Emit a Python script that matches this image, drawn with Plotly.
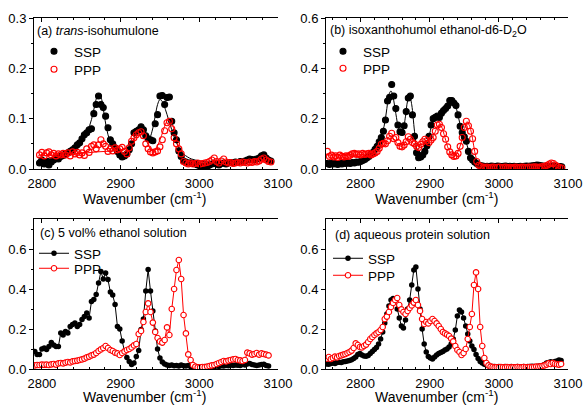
import plotly.graph_objects as go

W, H = 587, 405

# ---------------- Panel (a): trans-isohumulone ----------------
xa = [2797, 2800, 2803, 2806, 2809, 2812, 2815, 2818, 2821, 2824,
      2827, 2830, 2833, 2836, 2839, 2842, 2845, 2848, 2851, 2854,
      2857, 2860, 2863, 2866, 2869, 2872, 2875, 2878, 2881, 2884,
      2887, 2890, 2893, 2896, 2899, 2902, 2905, 2908, 2911, 2914,
      2917, 2920, 2923, 2926, 2929, 2932, 2935, 2938, 2941, 2944,
      2947, 2950, 2953, 2956, 2959, 2962, 2965, 2968, 2971, 2974,
      2977, 2980, 2983, 2986, 2989, 2992, 2995, 2998, 3001, 3004,
      3007, 3010, 3013, 3016, 3019, 3022, 3025, 3028, 3031, 3034,
      3037, 3040, 3043, 3046, 3049, 3052, 3055, 3058, 3061, 3064,
      3067, 3070, 3073, 3076, 3079, 3082, 3085, 3088, 3091]
ssp_a = [0.012, 0.018, 0.010, 0.015, 0.008, 0.014, 0.018, 0.022, 0.020, 0.025,
         0.027, 0.030, 0.032, 0.035, 0.038, 0.042, 0.048, 0.052, 0.060, 0.068,
         0.072, 0.078, 0.080, 0.110, 0.128, 0.145, 0.128, 0.122, 0.105, 0.082,
         0.058, 0.050, 0.042, 0.035, 0.028, 0.024, 0.026, 0.030, 0.038, 0.050,
         0.072, 0.075, 0.078, 0.084, 0.078, 0.066, 0.060, 0.058, 0.056, 0.090,
         0.108, 0.145, 0.146, 0.128, 0.142, 0.143, 0.095, 0.072, 0.058, 0.036,
         0.025, 0.016, 0.014, 0.012, 0.012, 0.011, 0.010, 0.008, 0.006, 0.005,
         0.006, 0.004, 0.008, 0.010, 0.012, 0.010, 0.008, 0.011, 0.012, 0.010,
         0.012, 0.013, 0.012, 0.014, 0.013, 0.015, 0.014, 0.016, 0.018, 0.020,
         0.019, 0.018, 0.020, 0.022, 0.026, 0.028, 0.022, 0.018, 0.016]
ppp_a = [0.028, 0.033, 0.026, 0.032, 0.034, 0.028, 0.031, 0.026, 0.030, 0.028,
         0.031, 0.028, 0.032, 0.026, 0.034, 0.030, 0.033, 0.028, 0.032, 0.027,
         0.040, 0.033, 0.045, 0.048, 0.040, 0.048, 0.058, 0.050, 0.045, 0.035,
         0.040, 0.036, 0.042, 0.038, 0.040, 0.043, 0.035, 0.030, 0.042, 0.055,
         0.062, 0.068, 0.072, 0.074, 0.066, 0.050, 0.040, 0.034, 0.032, 0.034,
         0.036, 0.044, 0.058, 0.076, 0.092, 0.095, 0.080, 0.062, 0.050, 0.040,
         0.030, 0.015, 0.012, 0.010, 0.012, 0.010, 0.011, 0.012, 0.010, 0.011,
         0.012, 0.013, 0.015, 0.018, 0.022, 0.015, 0.012, 0.016, 0.020, 0.014,
         0.012, 0.013, 0.011, 0.012, 0.013, 0.012, 0.014, 0.013, 0.012, 0.014,
         0.013, 0.015, 0.014, 0.016, 0.020, 0.022, 0.018, 0.015, 0.014]
fit_ssp_a_x = [2795, 2805, 2815, 2825, 2835, 2845, 2852, 2858, 2863, 2867, 2870, 2873,
               2876, 2879, 2882, 2886, 2890, 2895, 2900, 2905, 2910, 2915, 2920, 2924,
               2927, 2930, 2934, 2937, 2940, 2944, 2947, 2950, 2953, 2957, 2961, 2965,
               2970, 2975, 2980, 2985, 2990, 3000, 3010, 3030, 3050, 3065, 3075, 3080,
               3085, 3090]
fit_ssp_a_y = [0.018, 0.020, 0.023, 0.027, 0.033, 0.044, 0.058, 0.075, 0.098, 0.125, 0.143, 0.148,
               0.138, 0.110, 0.082, 0.057, 0.040, 0.029, 0.024, 0.026, 0.035, 0.052, 0.072, 0.082,
               0.084, 0.078, 0.066, 0.063, 0.075, 0.105, 0.128, 0.138, 0.134, 0.118, 0.098, 0.078,
               0.056, 0.040, 0.030, 0.024, 0.020, 0.016, 0.014, 0.013, 0.013, 0.014, 0.017, 0.020,
               0.018, 0.016]
fit_ppp_a_x = [2795, 2810, 2830, 2850, 2870, 2890, 2905, 2912, 2918, 2923, 2927, 2931,
               2935, 2940, 2944, 2948, 2952, 2956, 2960, 2963, 2966, 2970, 2974, 2978,
               2983, 2990, 3010, 3040, 3070, 3090]
fit_ppp_a_y = [0.026, 0.027, 0.029, 0.031, 0.034, 0.036, 0.040, 0.048, 0.060, 0.070, 0.072, 0.064,
               0.048, 0.036, 0.038, 0.050, 0.066, 0.085, 0.097, 0.097, 0.088, 0.065, 0.040, 0.024,
               0.015, 0.012, 0.012, 0.013, 0.014, 0.014]

# ---------------- Panel (b): isoxanthohumol ----------------
xb = [2752, 2755, 2758, 2761, 2764, 2767, 2770, 2773, 2776, 2779,
      2782, 2785, 2788, 2791, 2794, 2797, 2800, 2803, 2806, 2809,
      2812, 2815, 2818, 2821, 2824, 2827, 2830, 2833, 2836, 2839,
      2842, 2845, 2848, 2851, 2854, 2857, 2860, 2863, 2866, 2869,
      2872, 2875, 2878, 2881, 2884, 2887, 2890, 2893, 2896, 2899,
      2902, 2905, 2908, 2911, 2914, 2917, 2920, 2923, 2926, 2929,
      2932, 2935, 2938, 2941, 2944, 2947, 2950, 2953, 2956, 2959,
      2962, 2965, 2968, 2971, 2974, 2977, 2980, 2983, 2986, 2989,
      2992, 2995, 2998, 3001, 3004, 3007, 3010, 3013, 3016, 3019,
      3022, 3025, 3028, 3031, 3034, 3037, 3040, 3043, 3046, 3049,
      3052, 3055, 3058, 3061, 3064, 3067, 3070, 3073, 3076, 3079,
      3082, 3085, 3088, 3091]
ssp_b = [0.022, 0.018, 0.024, 0.020, 0.022, 0.018, 0.023, 0.020, 0.024, 0.022,
         0.025, 0.022, 0.026, 0.024, 0.028, 0.027, 0.030, 0.034, 0.038, 0.044,
         0.050, 0.058, 0.066, 0.078, 0.090, 0.108, 0.125, 0.150, 0.195, 0.270,
         0.285, 0.336, 0.290, 0.240, 0.175, 0.148, 0.145, 0.172, 0.228, 0.282,
         0.290, 0.215, 0.130, 0.065, 0.045, 0.048, 0.056, 0.070, 0.092, 0.130,
         0.175, 0.200, 0.205, 0.210, 0.205, 0.222, 0.232, 0.240, 0.250, 0.272,
         0.272, 0.262, 0.252, 0.215, 0.170, 0.145, 0.128, 0.110, 0.070, 0.045,
         0.036, 0.028, 0.022, 0.016, 0.013, 0.012, 0.010, 0.011, 0.010, 0.012,
         0.011, 0.010, 0.012, 0.011, 0.010, 0.011, 0.012, 0.010, 0.011, 0.010,
         0.011, 0.010, 0.010, 0.011, 0.010, 0.011, 0.012, 0.011, 0.012, 0.013,
         0.014, 0.016, 0.015, 0.013, 0.012, 0.011, 0.010, 0.011, 0.012, 0.012,
         0.010, 0.011, 0.010, 0.009]
ppp_b = [0.070, 0.050, 0.055, 0.048, 0.052, 0.046, 0.055, 0.050, 0.048, 0.052,
         0.050, 0.055, 0.060, 0.062, 0.058, 0.060, 0.056, 0.062, 0.058, 0.060,
         0.062, 0.056, 0.060, 0.064, 0.070, 0.082, 0.098, 0.102, 0.100, 0.112,
         0.130, 0.142, 0.120, 0.125, 0.105, 0.090, 0.088, 0.095, 0.108, 0.128,
         0.118, 0.105, 0.100, 0.090, 0.085, 0.098, 0.108, 0.118, 0.112, 0.105,
         0.115, 0.125, 0.150, 0.175, 0.178, 0.165, 0.140, 0.118, 0.088, 0.068,
         0.056, 0.050, 0.052, 0.062, 0.090, 0.125, 0.165, 0.190, 0.172, 0.150,
         0.120, 0.070, 0.030, 0.015, 0.010, 0.008, 0.007, 0.008, 0.006, 0.007,
         0.008, 0.006, 0.007, 0.008, 0.006, 0.007, 0.008, 0.006, 0.007, 0.006,
         0.007, 0.008, 0.006, 0.007, 0.008, 0.007, 0.006, 0.008, 0.007, 0.008,
         0.009, 0.008, 0.007, 0.009, 0.010, 0.012, 0.015, 0.020, 0.024, 0.022,
         0.015, 0.010, 0.006, 0.004]
fit_ssp_b_x = [2752, 2770, 2790, 2800, 2810, 2820, 2828, 2834, 2838, 2841, 2844, 2847,
               2851, 2855, 2858, 2861, 2865, 2868, 2871, 2874, 2878, 2882, 2886, 2890,
               2895, 2900, 2904, 2908, 2914, 2920, 2926, 2930, 2934, 2938, 2942, 2946,
               2950, 2954, 2958, 2962, 2966, 2972, 3000, 3050, 3090]
fit_ssp_b_y = [0.022, 0.021, 0.024, 0.028, 0.042, 0.072, 0.115, 0.170, 0.240, 0.295, 0.310, 0.285,
               0.220, 0.160, 0.140, 0.150, 0.210, 0.270, 0.290, 0.255, 0.150, 0.070, 0.045, 0.050,
               0.080, 0.140, 0.185, 0.200, 0.205, 0.225, 0.255, 0.270, 0.268, 0.245, 0.200, 0.155,
               0.125, 0.095, 0.055, 0.030, 0.018, 0.012, 0.011, 0.012, 0.011]
fit_ppp_b_x = [2752, 2790, 2810, 2825, 2835, 2842, 2848, 2856, 2862, 2868, 2873, 2880,
               2888, 2895, 2903, 2908, 2913, 2917, 2922, 2927, 2932, 2936, 2940, 2945,
               2950, 2954, 2958, 2962, 2965, 2969, 2973, 3000, 3060, 3072, 3079, 3085, 3090]
fit_ppp_b_y = [0.055, 0.056, 0.060, 0.072, 0.100, 0.130, 0.120, 0.092, 0.095, 0.120, 0.112, 0.092,
               0.100, 0.112, 0.120, 0.148, 0.175, 0.168, 0.125, 0.080, 0.056, 0.052, 0.065, 0.100,
               0.160, 0.188, 0.168, 0.120, 0.070, 0.028, 0.010, 0.007, 0.009, 0.016, 0.023, 0.012,
               0.006]

# ---------------- Panel (c): 5 vol% ethanol solution ----------------
xc = [2791, 2794, 2797, 2800, 2803, 2806, 2809, 2812, 2815, 2818,
      2821, 2824, 2827, 2830, 2833, 2836, 2839, 2842, 2845, 2848,
      2851, 2854, 2857, 2860, 2863, 2866, 2869, 2872, 2875, 2878,
      2881, 2884, 2887, 2890, 2893, 2896, 2899, 2902, 2905, 2908,
      2911, 2914, 2917, 2920, 2923, 2926, 2929, 2932, 2935, 2938,
      2941, 2944, 2947, 2950, 2953, 2956, 2959, 2962, 2965, 2968,
      2971, 2974, 2977, 2980, 2983, 2986, 2989, 2992, 2995, 2998,
      3001, 3004, 3007, 3010, 3013, 3016, 3019, 3022, 3025, 3028,
      3031, 3034, 3037, 3040, 3043, 3046, 3049, 3052, 3055, 3058,
      3061, 3064, 3067, 3070, 3073, 3076, 3079, 3082, 3085, 3088]
ssp_c = [0.088, 0.072, 0.072, 0.100, 0.105, 0.097, 0.113, 0.133, 0.120, 0.113,
         0.112, 0.180, 0.170, 0.188, 0.180, 0.213, 0.222, 0.230, 0.213, 0.222,
         0.247, 0.263, 0.280, 0.255, 0.338, 0.347, 0.372, 0.430, 0.488, 0.450,
         0.480, 0.447, 0.385, 0.370, 0.322, 0.213, 0.200, 0.140, 0.090, 0.058,
         0.038, 0.022, 0.030, 0.063, 0.092, 0.197, 0.250, 0.390, 0.497, 0.390,
         0.290, 0.190, 0.100, 0.055, 0.035, 0.025, 0.020, 0.018, 0.020, 0.016,
         0.018, 0.015, 0.020, 0.016, 0.015, 0.018, 0.012, 0.010, 0.012, 0.010,
         0.008, 0.010, 0.012, 0.010, 0.012, 0.014, 0.012, 0.015, 0.013, 0.016,
         0.015, 0.018, 0.016, 0.020, 0.018, 0.020, 0.019, 0.018, 0.022, 0.020,
         0.025, 0.028, 0.022, 0.020, 0.018, 0.020, 0.022, 0.024, 0.018, 0.015]
ppp_c = [0.018, 0.020, 0.020, 0.022, 0.021, 0.022, 0.020, 0.023, 0.025, 0.022,
         0.028, 0.030, 0.028, 0.032, 0.035, 0.033, 0.038, 0.040, 0.042, 0.045,
         0.048, 0.052, 0.058, 0.062, 0.068, 0.072, 0.080, 0.090, 0.098, 0.105,
         0.115, 0.105, 0.095, 0.090, 0.082, 0.078, 0.070, 0.080, 0.088, 0.095,
         0.100, 0.108, 0.118, 0.125, 0.175, 0.190, 0.235, 0.285, 0.328, 0.285,
         0.232, 0.185, 0.155, 0.138, 0.132, 0.145, 0.208, 0.170, 0.300, 0.400,
         0.495, 0.545, 0.450, 0.270, 0.178, 0.073, 0.045, 0.020, 0.012, 0.008,
         0.008, 0.010, 0.009, 0.012, 0.015, 0.018, 0.020, 0.025, 0.030, 0.035,
         0.040, 0.038, 0.042, 0.045, 0.048, 0.050, 0.045, 0.043, 0.040, 0.045,
         0.082, 0.078, 0.072, 0.075, 0.080, 0.072, 0.078, 0.075, 0.072, 0.068]

# ---------------- Panel (d): aqueous protein solution ----------------
xd = [2751, 2754, 2757, 2760, 2763, 2766, 2769, 2772, 2775, 2778,
      2781, 2784, 2787, 2790, 2793, 2796, 2799, 2802, 2805, 2808,
      2811, 2814, 2817, 2820, 2823, 2826, 2829, 2832, 2835, 2838,
      2841, 2844, 2847, 2850, 2853, 2856, 2859, 2862, 2865, 2868,
      2871, 2874, 2877, 2880, 2883, 2886, 2889, 2892, 2895, 2898,
      2901, 2904, 2907, 2910, 2913, 2916, 2919, 2922, 2925, 2928,
      2931, 2934, 2937, 2940, 2943, 2946, 2949, 2952, 2955, 2958,
      2961, 2964, 2967, 2970, 2973, 2976, 2979, 2982, 2985, 2988,
      2991, 2994, 2997, 3000, 3003, 3006, 3009, 3012, 3015, 3018,
      3021, 3024, 3027, 3030, 3033, 3036, 3039, 3042, 3045, 3048,
      3051, 3054, 3057, 3060, 3063, 3066, 3069, 3072, 3075, 3078,
      3081, 3084, 3087, 3090]
ssp_d = [0.025, 0.024, 0.027, 0.030, 0.028, 0.032, 0.034, 0.033, 0.036, 0.038,
         0.040, 0.042, 0.046, 0.052, 0.060, 0.072, 0.078, 0.070, 0.065, 0.064,
         0.068, 0.078, 0.088, 0.098, 0.108, 0.125, 0.150, 0.185, 0.230, 0.275,
         0.315, 0.345, 0.352, 0.345, 0.300, 0.255, 0.215, 0.205, 0.245, 0.300,
         0.345, 0.420, 0.495, 0.510, 0.400, 0.300, 0.200, 0.125, 0.085, 0.062,
         0.055, 0.050, 0.060, 0.070, 0.078, 0.082, 0.088, 0.095, 0.100, 0.110,
         0.125, 0.150, 0.195, 0.265, 0.295, 0.285, 0.255, 0.215, 0.175, 0.140,
         0.115, 0.098, 0.072, 0.052, 0.038, 0.030, 0.024, 0.020, 0.016, 0.014,
         0.012, 0.013, 0.011, 0.012, 0.010, 0.011, 0.012, 0.010, 0.011, 0.012,
         0.010, 0.011, 0.012, 0.011, 0.010, 0.012, 0.011, 0.013, 0.012, 0.014,
         0.013, 0.012, 0.014, 0.015, 0.018, 0.022, 0.030, 0.032, 0.036, 0.033,
         0.038, 0.040, 0.045, 0.042]
ppp_d = [0.052, 0.060, 0.050, 0.055, 0.062, 0.058, 0.065, 0.068, 0.072, 0.075,
         0.080, 0.085, 0.092, 0.105, 0.128, 0.120, 0.110, 0.108, 0.115, 0.122,
         0.135, 0.150, 0.160, 0.170, 0.178, 0.185, 0.195, 0.210, 0.250, 0.262,
         0.285, 0.310, 0.330, 0.345, 0.355, 0.320, 0.298, 0.285, 0.275, 0.290,
         0.305, 0.318, 0.332, 0.345, 0.320, 0.290, 0.250, 0.225, 0.235, 0.228,
         0.240, 0.250, 0.240, 0.228, 0.215, 0.200, 0.185, 0.178, 0.172, 0.165,
         0.152, 0.138, 0.115, 0.095, 0.085, 0.070, 0.080, 0.100, 0.150, 0.210,
         0.275, 0.420, 0.483, 0.400, 0.210, 0.115, 0.055, 0.030, 0.018, 0.012,
         0.010, 0.008, 0.009, 0.008, 0.010, 0.009, 0.008, 0.010, 0.009, 0.008,
         0.009, 0.008, 0.010, 0.009, 0.008, 0.010, 0.009, 0.008, 0.010, 0.009,
         0.010, 0.012, 0.011, 0.013, 0.015, 0.018, 0.022, 0.028, 0.025, 0.030,
         0.026, 0.024, 0.022, 0.025]

panel_titles = ["(a) <i>trans</i>-isohumulone",
                "(b) isoxanthohumol ethanol-d6-D<sub>2</sub>O",
                "(c) 5 vol% ethanol solution",
                "(d) aqueous protein solution"]
x_ticks = [2800, 2900, 3000, 3100]
x_title = "Wavenumber (cm<sup>-1</sup>)"

FONT = "Liberation Sans, Arial, sans-serif"
RED = "#ff0000"

fig = go.Figure()


def dots(x, y, ax, ay, legend, name, color, open_):
    mk = dict(size=6, color=color, symbol="circle-open" if open_ else "circle",
              line=dict(width=1.1, color=color))
    fig.add_trace(go.Scatter(x=x, y=y, xaxis=ax, yaxis=ay, mode="markers", name=name,
                             legend=legend, marker=mk))


def fitline(x, y, ax, ay, color):
    fig.add_trace(go.Scatter(x=x, y=y, xaxis=ax, yaxis=ay, mode="lines", showlegend=False,
                             line=dict(color=color, width=1, shape="spline", smoothing=1.0),
                             hoverinfo="skip"))


def linedots(x, y, ax, ay, legend, name, color, open_):
    if open_:
        mk = dict(size=5.5, color="white", symbol="circle", line=dict(width=1.1, color=color))
    else:
        mk = dict(size=5.5, color=color, symbol="circle", line=dict(width=0, color=color))
    fig.add_trace(go.Scatter(x=x, y=y, xaxis=ax, yaxis=ay, mode="lines+markers", name=name,
                             legend=legend, marker=mk, line=dict(color=color, width=1)))


# (a)
fitline(fit_ssp_a_x, fit_ssp_a_y, "x", "y", "black")
fitline(fit_ppp_a_x, fit_ppp_a_y, "x", "y", RED)
dots(xa, ssp_a, "x", "y", "legend", "SSP", "black", False)
dots(xa, ppp_a, "x", "y", "legend2", "PPP", RED, True)
# (b)
fitline(fit_ssp_b_x, fit_ssp_b_y, "x2", "y2", "black")
fitline(fit_ppp_b_x, fit_ppp_b_y, "x2", "y2", RED)
dots(xb, ssp_b, "x2", "y2", "legend3", "SSP", "black", False)
dots(xb, ppp_b, "x2", "y2", "legend4", "PPP", RED, True)
# (c)
linedots(xc, ssp_c, "x3", "y3", "legend5", "SSP", "black", False)
linedots(xc, ppp_c, "x3", "y3", "legend6", "PPP", RED, True)
# (d)
linedots(xd, ssp_d, "x4", "y4", "legend7", "SSP", "black", False)
linedots(xd, ppp_d, "x4", "y4", "legend8", "PPP", RED, True)

px = lambda v: v / W
py = lambda v: 1 - v / H

dom_left = [px(34), px(278)]
dom_right = [px(326), px(568)]
dom_top = [py(169), py(18)]
dom_bot = [py(369), py(219)]


def xax(domain, rng, anchor):
    return dict(domain=domain, range=rng, anchor=anchor, tickvals=x_ticks, automargin=False,
                ticks="inside", ticklen=4, tickwidth=1, tickcolor="black", ticklabelstandoff=2,
                minor=dict(dtick=20, tick0=2800, ticks="inside", ticklen=2, tickcolor="black"),
                showline=True, linecolor="black", linewidth=1, mirror="ticks",
                showgrid=False, zeroline=False,
                tickfont=dict(size=13, color="black", family=FONT))


def yax(domain, rng, dtick, minor, anchor):
    return dict(domain=domain, range=rng, anchor=anchor, dtick=dtick, tick0=0, automargin=False,
                tickformat=".1f", ticks="outside", ticklen=4, tickwidth=1, tickcolor="black",
                minor=dict(dtick=minor, ticks="outside", ticklen=2, tickcolor="black"),
                showline=True, linecolor="black", linewidth=1, mirror=False,
                showgrid=False, zeroline=False,
                tickfont=dict(size=13, color="black", family=FONT))


def yright(over, rng, dtick, minor, anchor):
    return dict(overlaying=over, side="right", anchor=anchor, range=rng, dtick=dtick, tick0=0,
                automargin=False, showticklabels=False, ticks="inside", ticklen=4, tickwidth=1,
                tickcolor="black",
                minor=dict(dtick=minor, ticks="inside", ticklen=2, tickcolor="black"),
                showline=True, linecolor="black", linewidth=1, showgrid=False, zeroline=False,
                fixedrange=True)


def leg(xpx, ypx):
    return dict(x=px(xpx), y=py(ypx), xanchor="left", yanchor="top",
                bgcolor="rgba(0,0,0,0)", borderwidth=0, tracegroupgap=0,
                itemwidth=30, font=dict(size=13.5, color="black", family=FONT))


annotations = []
for (txt, xp, yp) in zip(panel_titles, [35, 328, 38, 333], [31, 31, 233, 235]):
    annotations.append(dict(text=txt, x=px(xp), y=py(yp), xref="paper", yref="paper",
                            xanchor="left", yanchor="middle", showarrow=False,
                            font=dict(size=12.5, color="black", family=FONT)))
for (xp, yp) in [(144, 198), (436, 198), (144, 396), (436, 396)]:
    annotations.append(dict(text=x_title, x=px(xp), y=py(yp), xref="paper", yref="paper",
                            xanchor="center", yanchor="middle", showarrow=False,
                            font=dict(size=14, color="black", family=FONT)))

fig.update_layout(
    width=W, height=H, margin=dict(l=0, r=0, t=0, b=0, autoexpand=False),
    paper_bgcolor="white", plot_bgcolor="white",
    font=dict(family=FONT, color="black"),
    xaxis=xax(dom_left, [2790, 3100], "y"),
    yaxis=yax(dom_top, [0, 0.3], 0.1, 0.05, "x"),
    xaxis2=xax(dom_right, [2750, 3100], "y2"),
    yaxis2=yax(dom_top, [0, 0.6], 0.2, 0.1, "x2"),
    xaxis3=xax(dom_left, [2790, 3100], "y3"),
    yaxis3=yax(dom_bot, [0, 0.75], 0.2, 0.1, "x3"),
    xaxis4=xax(dom_right, [2750, 3100], "y4"),
    yaxis4=yax(dom_bot, [0, 0.75], 0.2, 0.1, "x4"),
    yaxis5=yright("y", [0, 0.3], 0.1, 0.05, "x"),
    yaxis6=yright("y2", [0, 0.6], 0.2, 0.1, "x2"),
    yaxis7=yright("y3", [0, 0.75], 0.2, 0.1, "x3"),
    yaxis8=yright("y4", [0, 0.75], 0.2, 0.1, "x4"),
    legend=leg(34, 36),
    legend2=leg(34, 54),
    legend3=leg(323, 36),
    legend4=leg(323, 53),
    legend5=leg(34, 238),
    legend6=leg(34, 253),
    legend7=leg(328, 243),
    legend8=leg(328, 260),
    annotations=annotations,
    showlegend=True,
)

fig.write_html(
    "out.html",
    config={"displayModeBar": False},
    post_script="document.body.style.margin='0';document.body.style.padding='0';"
                "document.documentElement.style.overflow='hidden';",
)
